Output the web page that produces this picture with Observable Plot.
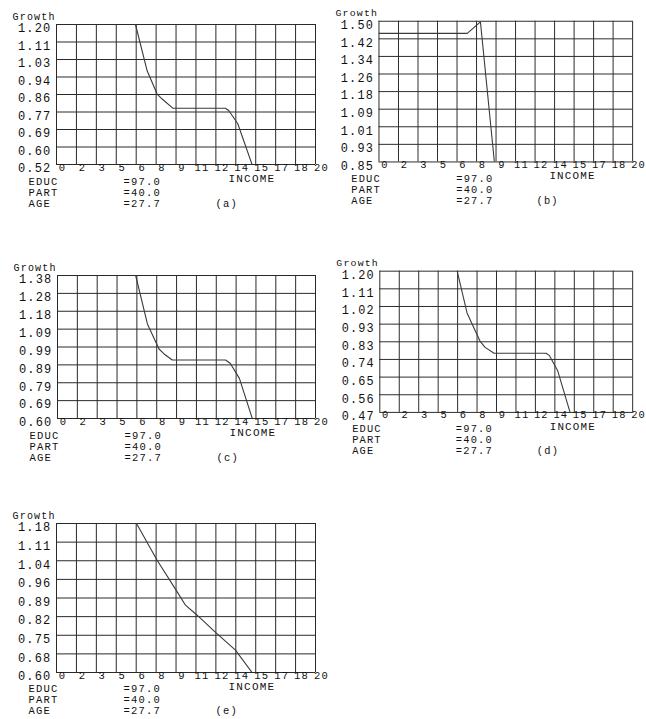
<!DOCTYPE html>
<html><head><meta charset="utf-8">
<script src="https://cdn.jsdelivr.net/npm/d3@7"></script>
<script src="https://cdn.jsdelivr.net/npm/@observablehq/plot@0.6"></script>
<style>
body{margin:0;background:#fff;width:646px;height:719px;overflow:hidden;position:relative;}
.panel{position:absolute;}
</style></head><body>
<script>
// Shared axis labels and annotations
const xTickLabels = ["0","2","3","5","6","8","9","11","12","14","15","17","18","20"];
const xDomain = [0, 20];
const infoNames = ["EDUC", "PART", "AGE"];
const infoValues = ["=97.0", "=40.0", "=27.7"];

// Panel (a)
const aYRange = [0.52, 1.20];
const aYLabels = ["0.52","0.60","0.69","0.77","0.86","0.94","1.03","1.11","1.20"];
const aIncome = [6.1, 7.0, 7.77, 8.16, 9.0, 13.05, 13.3, 14.0, 15.1];
const aGrowth = [1.20, 0.975, 0.862, 0.838, 0.793, 0.793, 0.782, 0.718, 0.52];

// Panel (b)
const bYRange = [0.85, 1.50];
const bYLabels = ["0.85","0.93","1.01","1.09","1.18","1.26","1.34","1.42","1.50"];
const bIncome = [0, 6.96, 8.0, 9.1];
const bGrowth = [1.444, 1.444, 1.497, 0.85];

// Panel (c)
const cYRange = [0.60, 1.38];
const cYLabels = ["0.60","0.69","0.79","0.89","0.99","1.09","1.18","1.28","1.38"];
const cIncome = [6.06, 6.97, 7.87, 8.26, 8.9, 13.03, 13.4, 14.1, 15.1];
const cGrowth = [1.38, 1.116, 0.979, 0.952, 0.919, 0.919, 0.90, 0.819, 0.60];

// Panel (d)
const dYRange = [0.47, 1.20];
const dYLabels = ["0.47","0.56","0.65","0.74","0.83","0.93","1.02","1.11","1.20"];
const dIncome = [6.12, 6.9, 7.94, 8.33, 9.04, 13.15, 13.4, 14.06, 15.05];
const dGrowth = [1.20, 0.984, 0.837, 0.806, 0.776, 0.776, 0.765, 0.687, 0.47];

// Panel (e)
const eYRange = [0.60, 1.18];
const eYLabels = ["0.60","0.68","0.75","0.82","0.89","0.96","1.04","1.11","1.18"];
const eIncome = [6.18, 7.77, 9.32, 9.96, 10.86, 12.28, 13.82, 15.1];
const eGrowth = [1.18, 1.037, 0.914, 0.862, 0.823, 0.756, 0.687, 0.60];

const font = "'Liberation Mono', 'DejaVu Sans Mono', monospace";
const ink = "#111";

function panel({tag, yRange, yLabels, income, growth, left, top, pw, ph, valueDx, infoDy}) {
  const n = yLabels.length - 1;
  const yTicks = yLabels.map((label, i) => ({v: yRange[0] + (yRange[1] - yRange[0]) * i / n, label}));
  const xTicks = xTickLabels.map((label, i) => ({v: xDomain[0] + (xDomain[1] - xDomain[0]) * i / (xTickLabels.length - 1), label}));
  const data = income.map((x, i) => ({x, y: growth[i]}));
  const ml = 56, mr = 14, mt = 26, mb = 52;
  const marks = [
    Plot.ruleX(xTicks, {x: "v", stroke: "#2a2a2a", strokeWidth: 1}),
    Plot.ruleY(yTicks, {y: "v", stroke: "#2a2a2a", strokeWidth: 1}),
    Plot.line(data, {x: "x", y: "y", stroke: "#3a3a3a", strokeWidth: 1.1, clip: true}),
    Plot.text(yTicks, {y: "v", text: "label", frameAnchor: "left", textAnchor: "end", dx: -5, dy: 4, fontSize: 12, fill: ink}),
    Plot.text(xTicks, {x: "v", text: "label", frameAnchor: "bottom", dx: 6, dy: 6, fontSize: 10.5, fill: ink}),
    Plot.text(["Growth"], {frameAnchor: "top-left", textAnchor: "start", dx: -44, dy: -12, fontSize: 10, fill: ink}),
    Plot.text(["INCOME"], {frameAnchor: "bottom-left", textAnchor: "start", dx: 172, dy: 17.5, fontSize: 11, fill: ink}),
    Plot.text([`(${tag})`], {frameAnchor: "bottom-left", textAnchor: "start", dx: 159, dy: infoDy + 22, fontSize: 10.5, fill: ink})
  ];
  infoNames.forEach((name, i) => {
    marks.push(Plot.text([name], {frameAnchor: "bottom-left", textAnchor: "start", dx: -28, dy: infoDy + 11 * i, fontSize: 10.5, fill: ink}));
    marks.push(Plot.text([infoValues[i]], {frameAnchor: "bottom-left", textAnchor: "start", dx: valueDx, dy: infoDy + 11 * i, fontSize: 10.5, fill: ink}));
  });
  const chart = Plot.plot({
    width: ml + pw + mr, height: mt + ph + mb,
    marginLeft: ml, marginRight: mr, marginTop: mt, marginBottom: mb,
    x: {domain: xDomain, axis: null},
    y: {domain: yRange, axis: null},
    style: {background: "transparent", overflow: "visible", fontFamily: font, letterSpacing: "1.2px"},
    marks
  });
  const div = document.createElement("div");
  div.className = "panel";
  div.style.left = (left - ml) + "px";
  div.style.top = (top - mt) + "px";
  div.appendChild(chart);
  document.body.appendChild(div);
}

panel({tag: "a", yRange: aYRange, yLabels: aYLabels, income: aIncome, growth: aGrowth, left: 56, top: 24, pw: 259, ph: 140, valueDx: 67, infoDy: 20});
panel({tag: "b", yRange: bYRange, yLabels: bYLabels, income: bIncome, growth: bGrowth, left: 379, top: 21, pw: 256, ph: 142, valueDx: 78, infoDy: 20});
panel({tag: "c", yRange: cYRange, yLabels: cYLabels, income: cIncome, growth: cGrowth, left: 57, top: 275, pw: 258, ph: 143, valueDx: 67, infoDy: 20});
panel({tag: "d", yRange: dYRange, yLabels: dYLabels, income: dIncome, growth: dGrowth, left: 380, top: 271, pw: 256, ph: 143, valueDx: 77, infoDy: 20});
panel({tag: "e", yRange: eYRange, yLabels: eYLabels, income: eIncome, growth: eGrowth, left: 56, top: 523, pw: 259, ph: 149, valueDx: 67, infoDy: 19.5});
</script>
</body></html>
